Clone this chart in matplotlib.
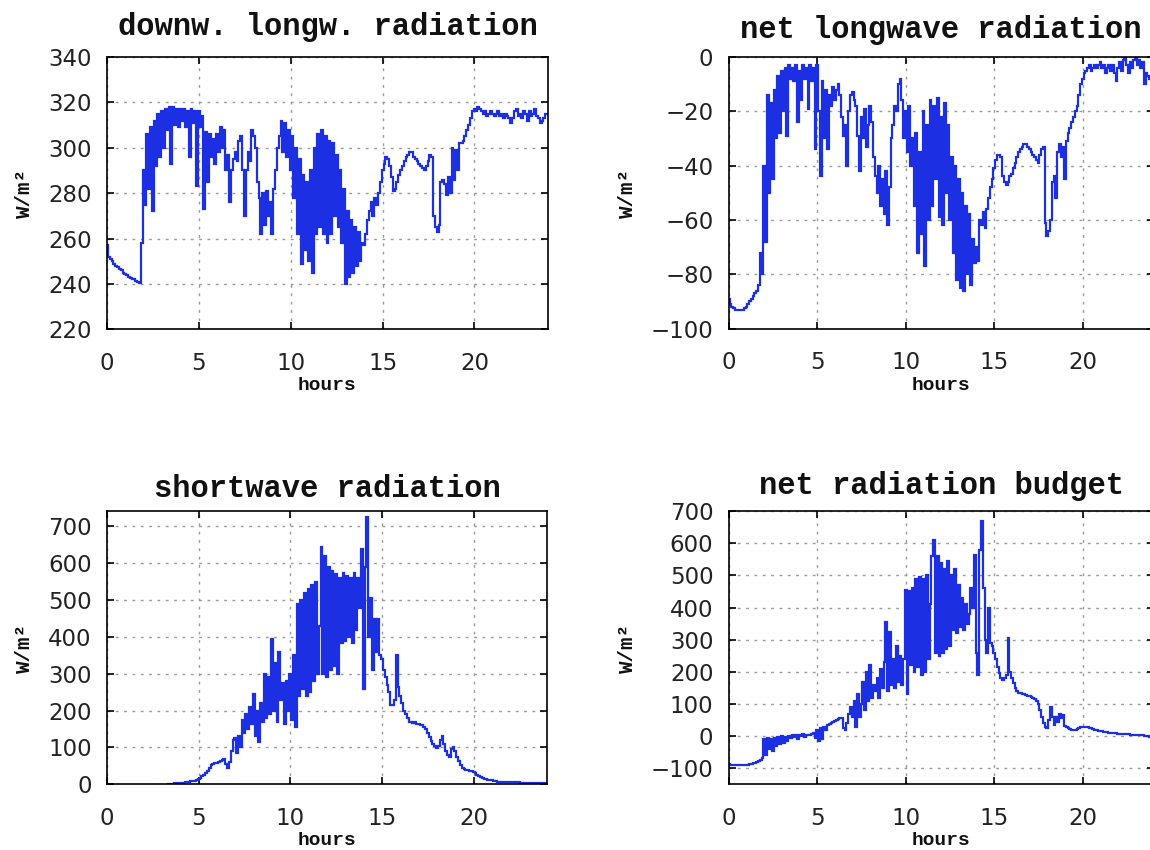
import numpy as np
import matplotlib
matplotlib.use("Agg")
import matplotlib.pyplot as plt

# time axis: one reading every 6 minutes over the day
hours = np.arange(241) / 10.0

# downward longwave radiation (W/m2)
dlw = [
    257, 252, 251, 250, 249, 248, 247.5, 246.5, 246, 245,
    244.5, 244, 243, 242.5, 242, 242, 241.5, 241, 240.5, 258,
    290, 275, 306, 282, 309, 272, 312, 292, 315, 296,
    316, 300, 317, 308, 318, 293, 318, 310, 317, 309,
    317, 312, 317, 309, 316, 296, 317, 311, 316, 283,
    316, 309, 314, 273, 307, 285, 306, 296, 304, 293,
    306, 298, 309, 300, 308, 290, 297, 276, 290, 295,
    298, 294, 303, 305, 290, 270, 290, 298, 294, 308,
    305, 300, 285, 278, 262, 280, 266, 281, 270, 276,
    262, 282, 290, 300, 305, 312, 298, 311, 296, 308,
    290, 305, 278, 300, 262, 295, 249, 288, 255, 285,
    250, 290, 245, 300, 262, 306, 265, 308, 262, 305,
    258, 303, 262, 302, 270, 297, 265, 290, 258, 282,
    240, 272, 243, 268, 245, 265, 248, 263, 250, 258,
    257, 262, 268, 272, 276, 270, 278, 275, 280, 285,
    290, 293, 296, 295, 292, 287, 281, 282, 285, 288,
    290, 292, 294, 296, 297, 298, 298, 296, 295, 294,
    293, 292, 291, 290, 292, 294, 297, 296, 270, 265,
    263, 266, 285, 286, 284, 279, 287, 280, 300, 286,
    299, 290, 302, 302, 303, 305, 308, 310, 313, 316,
    317, 316, 318, 317, 316, 315, 316, 314, 315, 316,
    315, 314, 315, 316, 314, 315, 313, 315, 314, 313,
    311, 313, 316, 317, 314, 315, 313, 316, 315, 312,
    316, 314, 315, 317, 314, 313, 311, 312, 313, 315,
    315,
]

# net longwave radiation (W/m2)
nlw = [
    -89, -91, -92, -92.5, -93, -93, -93, -93, -93, -92.5,
    -92, -91, -90, -89, -88, -87, -86, -84, -72, -80,
    -40, -68, -14, -50, -17, -45, -12, -30, -7, -28,
    -5, -20, -4, -29, -3, -8, -4, -9, -3, -24,
    -5, -16, -3, -8, -4, -19, -3, -9, -4, -34,
    -3, -20, -44, -9, -30, -12, -34, -14, -18, -11,
    -16, -12, -10, -14, -22, -29, -25, -40, -20, -14,
    -13, -16, -18, -29, -42, -22, -30, -19, -33, -25,
    -18, -24, -37, -44, -50, -40, -55, -45, -58, -42,
    -62, -48, -30, -25, -18, -20, -10, -8, -16, -30,
    -20, -35, -18, -40, -30, -55, -28, -72, -35, -65,
    -20, -77, -25, -60, -16, -55, -18, -45, -15, -59,
    -22, -62, -17, -50, -25, -60, -37, -72, -40, -82,
    -45, -85, -50, -86, -55, -80, -58, -84, -67, -76,
    -70, -75, -60, -62, -57, -63, -56, -52, -48, -45,
    -41, -38, -36, -36, -37, -44, -46, -47, -46, -44,
    -43, -41, -39, -37, -35, -34, -33, -32, -32, -33,
    -34, -35, -36, -37, -38, -39, -36, -34, -33, -61,
    -66, -64, -60, -46, -44, -52, -35, -32, -37, -33,
    -45, -31, -28, -26, -24, -22, -20, -18, -14, -10,
    -8, -6, -5, -4, -3, -5, -4, -3, -4, -3,
    -2, -4, -3, -6, -4, -3, -5, -3, -6, -9,
    -4, -2, -5, -1, 0, -3, -6, -2, -4, -1,
    0, -3, -1, -4, -2, -10, -6, -7, -8, -8,
    -8,
]

# shortwave radiation (W/m2), no record before sunrise
nan = np.nan
sw = [
    nan, nan, nan, nan, nan, nan, nan, nan, nan, nan,
    nan, nan, nan, nan, nan, nan, nan, nan, nan, nan,
    nan, nan, nan, nan, nan, nan, nan, nan, nan, nan,
    nan, nan, nan, nan, 2, 2, 2, 3, 3, 3,
    3, 4, 4, 5, 5, 6, 8, 9, 10, 12,
    15, 18, 22, 25, 30, 35, 45, 52, 55, 58,
    58, 60, 62, 65, 68, 55, 45, 60, 90, 120,
    125, 85, 130, 100, 175, 140, 190, 150, 210, 165,
    245, 130, 200, 115, 220, 170, 300, 180, 290, 190,
    395, 200, 330, 170, 360, 230, 275, 165, 280, 200,
    300, 175, 350, 155, 490, 240, 500, 260, 520, 240,
    530, 250, 540, 280, 550, 300, 430, 645, 300, 620,
    290, 590, 310, 580, 320, 570, 300, 560, 385, 575,
    390, 565, 400, 560, 385, 575, 420, 560, 480, 640,
    260, 590, 725, 400, 505, 310, 450, 360, 450, 350,
    340, 310, 290, 270, 250, 215, 215, 230, 350, 265,
    240, 220, 200, 190, 180, 170, 168, 166, 168, 165,
    165, 162, 160, 155, 150, 140, 128, 118, 110, 105,
    98, 105, 120, 130, 110, 90, 80, 75, 95, 100,
    90, 75, 62, 52, 45, 42, 40, 38, 36, 35,
    34, 30, 26, 22, 20, 17, 15, 14, 13, 12,
    11, 10, 9, 7, 6, 5, 5, 5, 5, 5,
    5, 5, 5, 5, 5, 5, 4, 4, 4, 4,
    4, 4, 4, 3, 3, 3, 3, 3, 3, 3,
    3,
]

# net radiation budget (W/m2)
net = [
    -88, -89, -89, -89, -89, -89, -89, -89, -89, -89,
    -89, -89, -88, -87, -85, -84, -80, -78, -75, -68,
    -10, -60, -5, -40, -8, -45, -5, -30, -3, -25,
    0, -20, -2, -15, 2, -5, 3, -3, 4, -10,
    5, 0, 6, -2, 4, 5, 3, 8, 10, -5,
    20, -15, 25, -10, 30, 20, 35, 38, 42, 45,
    48, 50, 52, 56, 58, 25, 18, 40, 70, 90,
    60, 110, 30, 130, 60, 100, 170, 80, 200, 110,
    220, 120, 160, 140, 180, 120, 210, 150, 230, 355,
    140, 325, 160, 240, 150, 280, 170, 250, 160, 240,
    455, 130, 450, 220, 460, 200, 490, 215, 495, 190,
    490, 200, 500, 240, 410, 560, 610, 260, 560, 250,
    540, 260, 520, 270, 545, 280, 500, 330, 520, 320,
    470, 340, 430, 330, 410, 350, 380, 460, 400, 565,
    260, 190, 580, 668, 460, 300, 260, 400, 290, 280,
    260, 240, 215, 195, 180, 175, 180, 190, 305, 200,
    180, 165, 150, 140, 135, 133, 132, 130, 128, 126,
    124, 122, 120, 115, 110, 100, 80, 60, 40, 30,
    26, 50, 90, 60, 36, 60, 45, 70, 55, 65,
    31, 28, 25, 22, 20, 18, 20, 22, 25, 28,
    30, 30, 28, 27, 26, 24, 22, 20, 18, 17,
    16, 15, 14, 13, 12, 11, 10, 10, 9, 9,
    8, 8, 7, 7, 6, 6, 6, 5, 5, 5,
    5, 4, 4, 3, 3, 2, 1, 0, -2, -3,
    -4,
]

titles = ["downw. longw. radiation", "net longwave radiation",
          "shortwave radiation", "net radiation budget"]
series = [dlw, nlw, sw, net]
ylims = [(220, 340), (-100, 0), (0, 742), (-150, 700)]
yticks = [np.arange(220, 341, 20), np.arange(-100, 1, 20),
          np.arange(0, 701, 100), np.arange(-100, 701, 100)]
xticks = [0, 5, 10, 15, 20]

# axes boxes in figure fractions (left, bottom, width, height)
boxes = [
    [0.0930, 0.6124, 0.3835, 0.3206],
    [0.6337, 0.6135, 0.3694, 0.3194],
    [0.0930, 0.0773, 0.3826, 0.3215],
    [0.6337, 0.0772, 0.3694, 0.3215],
]
title_pads = [16, 14, 10, 12]

mono = "Liberation Mono"
line_color = "#1c2fe3"

fig = plt.figure(figsize=(11.5, 8.5), dpi=100)

for i in range(4):
    ax = fig.add_axes(boxes[i])
    ax.plot(hours, series[i], color=line_color, lw=1.6, drawstyle="steps-mid",
            solid_joinstyle="miter")
    ax.set_xlim(0, 24)
    ax.set_ylim(*ylims[i])
    ax.set_xticks(xticks)
    ax.set_yticks(yticks[i])
    ax.grid(True, color="#9a9a9a", linestyle=(0, (2, 4)), lw=1.0)
    ax.tick_params(direction="in", length=5, width=1.2, top=True, right=True,
                   labelsize=16.5, labelcolor="#222222")
    ax.tick_params(axis="x", pad=16)
    ax.tick_params(axis="y", pad=11)
    for sp in ax.spines.values():
        sp.set_linewidth(1.2)
        sp.set_color("black")
    ax.set_title(titles[i], family=mono, fontweight="bold", fontsize=22,
                 pad=title_pads[i], color="#111111")
    ax.set_xlabel("hours", family=mono, fontweight="bold", fontsize=14,
                  labelpad=2, color="#111111")
    ax.set_ylabel("W/m²", family=mono, fontweight="bold", fontsize=15,
                  labelpad=10, color="#111111")

fig.savefig("out.png", dpi=100)
